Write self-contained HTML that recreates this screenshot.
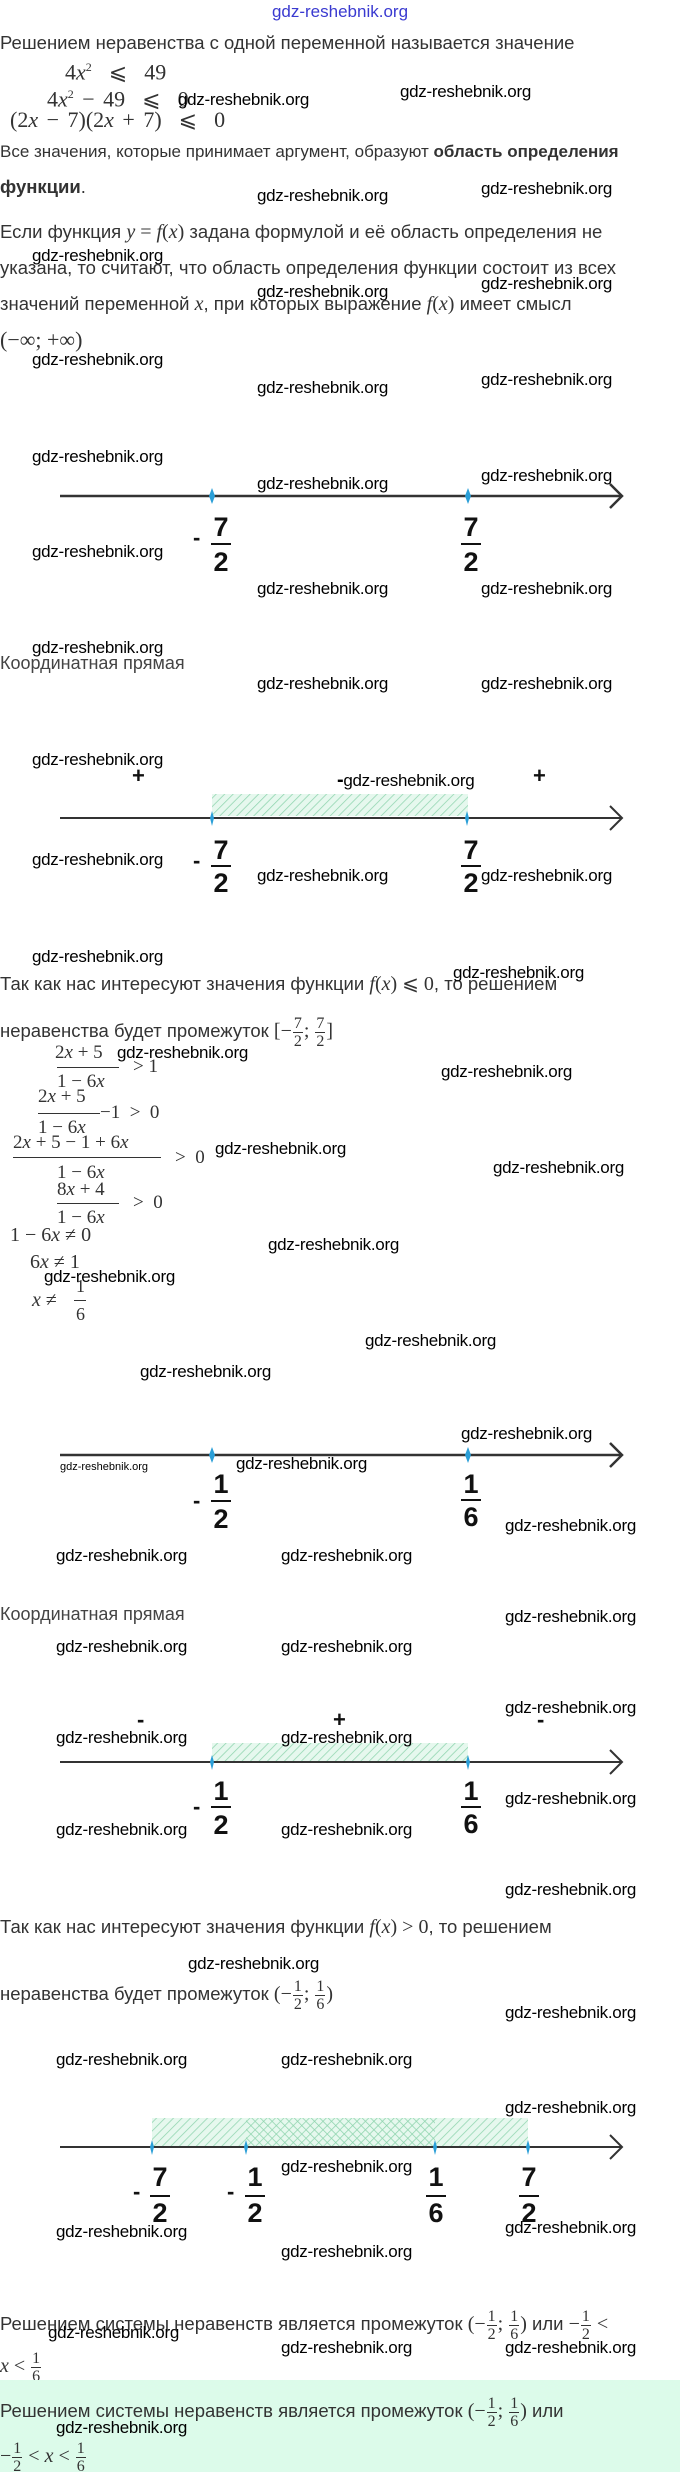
<!DOCTYPE html>
<html><head><meta charset="utf-8"><style>
body{margin:0;width:680px;height:2472px;position:relative;background:#fff;overflow:hidden;font-family:"Liberation Sans",sans-serif;color:#333;}
.a{position:absolute;white-space:nowrap;line-height:20px;}
.t{font-size:18.5px;}
.w{font-size:17px;color:#000;letter-spacing:-0.3px;}
.m{font-family:"Liberation Serif",serif;font-size:20px;color:#333;}
.m i{font-style:italic;}
.fr{display:inline-flex;flex-direction:column;align-items:center;vertical-align:middle;font-size:16px;line-height:17px;margin:0 1px;}
.fr span:first-child{border-bottom:1px solid #333;padding:0 1px;}
.bf{font-family:"Liberation Sans",sans-serif;font-weight:bold;font-size:27px;color:#111;line-height:28px;text-align:center;width:24px;}
.bar{position:absolute;height:2px;background:#111;}
.pm{font-weight:bold;font-size:22px;color:#111;}
.k{font-size:18px;color:#444;}
.bm{font-size:22px;word-spacing:3px;}
</style></head><body>

<div class="a" style="left:0;top:2px;width:680px;text-align:center;font-size:17px;color:#3a3ad0;">gdz-reshebnik.org</div>

<div class="a t" style="left:0;top:33px;">Решением неравенства с одной переменной называется значение</div>
<div class="a m bm" style="left:65px;top:57px;">4<i>x</i><sup style="font-size:12px">2</sup> &nbsp;⩽&nbsp; 49</div>
<div class="a m bm" style="left:47px;top:84px;">4<i>x</i><sup style="font-size:12px">2</sup> − 49 &nbsp;⩽&nbsp; 0</div>
<div class="a w" style="left:178px;top:90px;">gdz-reshebnik.org</div>
<div class="a w" style="left:400px;top:82px;">gdz-reshebnik.org</div>
<div class="a m bm" style="left:10px;top:110px;">(2<i>x</i> − 7)(2<i>x</i> + 7) &nbsp;⩽&nbsp; 0</div>
<div class="a t" style="left:0;top:142px;font-size:17px;">Все значения, которые принимает аргумент, образуют <b>область определения</b></div>
<div class="a t" style="left:0;top:177px;"><b>функции</b>.</div>
<div class="a w" style="left:257px;top:186px;">gdz-reshebnik.org</div>
<div class="a w" style="left:481px;top:179px;">gdz-reshebnik.org</div>
<div class="a t" style="left:0;top:222px;">Если функция <span class="m"><i>y</i> = <i>f</i>(<i>x</i>)</span> задана формулой и её область определения не</div>
<div class="a w" style="left:32px;top:246px;">gdz-reshebnik.org</div>
<div class="a t" style="left:0;top:258px;">указана, то считают, что область определения функции состоит из всех</div>
<div class="a w" style="left:257px;top:282px;">gdz-reshebnik.org</div>
<div class="a w" style="left:481px;top:274px;">gdz-reshebnik.org</div>
<div class="a t" style="left:0;top:294px;">значений переменной <span class="m"><i>x</i></span>, при которых выражение <span class="m"><i>f</i>(<i>x</i>)</span> имеет смысл</div>
<div class="a m" style="left:0;top:330px;font-size:22px;">(−∞; +∞)</div>
<div class="a w" style="left:32px;top:350px;">gdz-reshebnik.org</div>
<div class="a w" style="left:257px;top:378px;">gdz-reshebnik.org</div>
<div class="a w" style="left:481px;top:370px;">gdz-reshebnik.org</div>

<div class="a w" style="left:32px;top:447px;">gdz-reshebnik.org</div>
<div class="a w" style="left:257px;top:474px;">gdz-reshebnik.org</div>
<div class="a w" style="left:481px;top:466px;">gdz-reshebnik.org</div>
<svg class="a" style="left:0;top:0" width="680" height="2472">
<defs>
<pattern id="h" width="6" height="6" patternUnits="userSpaceOnUse" patternTransform="rotate(45)"><rect width="6" height="6" fill="#e6f8ee"/><line x1="0" y1="0" x2="0" y2="6" stroke="#8fd4ae" stroke-width="1.5"/></pattern>
<pattern id="x" width="6" height="6" patternUnits="userSpaceOnUse" patternTransform="rotate(-45)"><line x1="0" y1="0" x2="0" y2="6" stroke="#8fd4ae" stroke-width="1.5"/></pattern>
</defs>
<g stroke="#333" stroke-width="2.5" fill="none">
<line x1="60" y1="496" x2="621" y2="496"/><polyline points="610,484 622,496 610,508"/>
</g>
<g fill="#2a9fd8"><path d="M212 488 L215 496 L212 504 L209 496Z"/><path d="M468 488 L471 496 L468 504 L465 496Z"/></g>

<rect x="212" y="794" width="256" height="22" fill="url(#h)"/>
<g stroke="#333" stroke-width="2" fill="none">
<line x1="60" y1="818" x2="621" y2="818"/><polyline points="610,806 622,818 610,830"/>
</g>
<g fill="#2a9fd8"><path d="M212 811 L214 818 L212 826 L210 818Z"/><path d="M467 811 L469 818 L467 826 L465 818Z"/></g>

<g stroke="#333" stroke-width="2.5" fill="none">
<line x1="60" y1="1455" x2="621" y2="1455"/><polyline points="610,1443 622,1455 610,1467"/>
</g>
<g fill="#2a9fd8"><path d="M212 1447 L215 1455 L212 1463 L209 1455Z"/><path d="M468 1447 L471 1455 L468 1463 L465 1455Z"/></g>

<rect x="212" y="1743" width="256" height="19" fill="url(#h)"/>
<g stroke="#333" stroke-width="2" fill="none">
<line x1="60" y1="1762" x2="621" y2="1762"/><polyline points="610,1750 622,1762 610,1774"/>
</g>
<g fill="#2a9fd8"><path d="M212 1755 L214 1762 L212 1770 L210 1762Z"/><path d="M468 1755 L470 1762 L468 1770 L466 1762Z"/></g>

<rect x="152" y="2118" width="376" height="28" fill="url(#h)"/>
<rect x="246" y="2118" width="189" height="28" fill="url(#x)"/>
<g stroke="#333" stroke-width="2" fill="none">
<line x1="60" y1="2147" x2="621" y2="2147"/><polyline points="610,2135 622,2147 610,2159"/>
</g>
<g fill="#2a9fd8"><path d="M152 2140 L154 2147 L152 2155 L150 2147Z"/><path d="M246 2140 L248 2147 L246 2155 L244 2147Z"/><path d="M435 2140 L437 2147 L435 2155 L433 2147Z"/><path d="M528 2140 L530 2147 L528 2155 L526 2147Z"/></g>
</svg>

<div class="a pm" style="left:193px;top:528px;">-</div>
<div class="a bf" style="left:209px;top:513px;">7</div><div class="bar" style="left:211px;top:543px;width:20px;"></div><div class="a bf" style="left:209px;top:548px;">2</div>
<div class="a bf" style="left:459px;top:513px;">7</div><div class="bar" style="left:461px;top:543px;width:20px;"></div><div class="a bf" style="left:459px;top:548px;">2</div>
<div class="a w" style="left:32px;top:542px;">gdz-reshebnik.org</div>
<div class="a w" style="left:257px;top:579px;">gdz-reshebnik.org</div>
<div class="a w" style="left:481px;top:579px;">gdz-reshebnik.org</div>

<div class="a w" style="left:32px;top:638px;">gdz-reshebnik.org</div>
<div class="a k" style="left:0;top:653px;">Координатная прямая</div>
<div class="a w" style="left:257px;top:674px;">gdz-reshebnik.org</div>
<div class="a w" style="left:481px;top:674px;">gdz-reshebnik.org</div>

<div class="a w" style="left:32px;top:750px;">gdz-reshebnik.org</div>
<div class="a pm" style="left:132px;top:766px;">+</div>
<div class="a w" style="left:337px;top:770px;"><b style="font-size:20px">-</b>gdz-reshebnik.org</div>
<div class="a pm" style="left:533px;top:766px;">+</div>
<div class="a pm" style="left:193px;top:851px;">-</div>
<div class="a bf" style="left:209px;top:836px;">7</div><div class="bar" style="left:211px;top:865px;width:20px;"></div><div class="a bf" style="left:209px;top:869px;">2</div>
<div class="a bf" style="left:459px;top:836px;">7</div><div class="bar" style="left:461px;top:865px;width:20px;"></div><div class="a bf" style="left:459px;top:869px;">2</div>
<div class="a w" style="left:32px;top:850px;">gdz-reshebnik.org</div>
<div class="a w" style="left:257px;top:866px;">gdz-reshebnik.org</div>
<div class="a w" style="left:481px;top:866px;">gdz-reshebnik.org</div>

<div class="a w" style="left:32px;top:947px;">gdz-reshebnik.org</div>
<div class="a t" style="left:0;top:974px;">Так как нас интересуют значения функции <span class="m"><i>f</i>(<i>x</i>) ⩽ 0</span>, то решением</div>
<div class="a w" style="left:453px;top:963px;">gdz-reshebnik.org</div>
<div class="a t" style="left:0;top:1015px;">неравенства будет промежуток <span class="m">[−<span class="fr"><span>7</span><span>2</span></span>; <span class="fr"><span>7</span><span>2</span></span>]</span></div>

<div class="a m" style="left:55px;top:1043px;font-size:19px;">2<i>x</i> + 5</div>
<div class="bar" style="left:57px;top:1067px;width:62px;height:1px;background:#333"></div>
<div class="a m" style="left:57px;top:1072px;font-size:19px;">1 − 6<i>x</i></div>
<div class="a m" style="left:133px;top:1057px;font-size:19px;">&gt; 1</div>
<div class="a w" style="left:117px;top:1043px;">gdz-reshebnik.org</div>
<div class="a w" style="left:441px;top:1062px;">gdz-reshebnik.org</div>

<div class="a m" style="left:38px;top:1087px;font-size:19px;">2<i>x</i> + 5</div>
<div class="bar" style="left:38px;top:1113px;width:62px;height:1px;background:#333"></div>
<div class="a m" style="left:38px;top:1118px;font-size:19px;">1 − 6<i>x</i></div>
<div class="a m" style="left:100px;top:1103px;font-size:19px;">−1 &nbsp;&gt;&nbsp; 0</div>

<div class="a m" style="left:13px;top:1133px;font-size:19px;">2<i>x</i> + 5 − 1 + 6<i>x</i></div>
<div class="bar" style="left:13px;top:1157px;width:148px;height:1px;background:#333"></div>
<div class="a m" style="left:57px;top:1163px;font-size:19px;">1 − 6<i>x</i></div>
<div class="a m" style="left:175px;top:1148px;font-size:19px;">&gt;&nbsp; 0</div>
<div class="a w" style="left:215px;top:1139px;">gdz-reshebnik.org</div>
<div class="a w" style="left:493px;top:1158px;">gdz-reshebnik.org</div>

<div class="a m" style="left:57px;top:1180px;font-size:19px;">8<i>x</i> + 4</div>
<div class="bar" style="left:57px;top:1203px;width:62px;height:1px;background:#333"></div>
<div class="a m" style="left:57px;top:1208px;font-size:19px;">1 − 6<i>x</i></div>
<div class="a m" style="left:133px;top:1193px;font-size:19px;">&gt;&nbsp; 0</div>

<div class="a m" style="left:10px;top:1225px;font-size:20px;">1 − 6<i>x</i> ≠ 0</div>
<div class="a w" style="left:268px;top:1235px;">gdz-reshebnik.org</div>
<div class="a m" style="left:30px;top:1252px;font-size:20px;">6<i>x</i> ≠ 1</div>
<div class="a w" style="left:44px;top:1267px;">gdz-reshebnik.org</div>
<div class="a m" style="left:32px;top:1290px;font-size:20px;"><i>x</i> ≠</div>
<div class="a m" style="left:76px;top:1276px;font-size:18px;">1</div>
<div class="bar" style="left:74px;top:1300px;width:12px;height:1px;background:#333"></div>
<div class="a m" style="left:76px;top:1304px;font-size:18px;">6</div>
<div class="a w" style="left:365px;top:1331px;">gdz-reshebnik.org</div>
<div class="a w" style="left:140px;top:1362px;">gdz-reshebnik.org</div>

<div class="a w" style="left:461px;top:1424px;">gdz-reshebnik.org</div>
<div class="a" style="left:60px;top:1460px;font-size:11px;color:#000;line-height:14px;">gdz-reshebnik.org</div>
<div class="a w" style="left:236px;top:1454px;">gdz-reshebnik.org</div>
<div class="a pm" style="left:193px;top:1491px;">-</div>
<div class="a bf" style="left:209px;top:1470px;">1</div><div class="bar" style="left:211px;top:1500px;width:20px;"></div><div class="a bf" style="left:209px;top:1505px;">2</div>
<div class="a bf" style="left:459px;top:1470px;">1</div><div class="bar" style="left:461px;top:1499px;width:20px;"></div><div class="a bf" style="left:459px;top:1503px;">6</div>
<div class="a w" style="left:505px;top:1516px;">gdz-reshebnik.org</div>
<div class="a w" style="left:56px;top:1546px;">gdz-reshebnik.org</div>
<div class="a w" style="left:281px;top:1546px;">gdz-reshebnik.org</div>
<div class="a k" style="left:0;top:1604px;">Координатная прямая</div>
<div class="a w" style="left:505px;top:1607px;">gdz-reshebnik.org</div>
<div class="a w" style="left:56px;top:1637px;">gdz-reshebnik.org</div>
<div class="a w" style="left:281px;top:1637px;">gdz-reshebnik.org</div>

<div class="a w" style="left:505px;top:1698px;">gdz-reshebnik.org</div>
<div class="a pm" style="left:137px;top:1710px;">-</div>
<div class="a pm" style="left:333px;top:1710px;">+</div>
<div class="a pm" style="left:537px;top:1710px;">-</div>
<div class="a w" style="left:56px;top:1728px;">gdz-reshebnik.org</div>
<div class="a w" style="left:281px;top:1728px;">gdz-reshebnik.org</div>
<div class="a pm" style="left:193px;top:1797px;">-</div>
<div class="a bf" style="left:209px;top:1777px;">1</div><div class="bar" style="left:211px;top:1806px;width:20px;"></div><div class="a bf" style="left:209px;top:1811px;">2</div>
<div class="a bf" style="left:459px;top:1777px;">1</div><div class="bar" style="left:461px;top:1806px;width:20px;"></div><div class="a bf" style="left:459px;top:1810px;">6</div>
<div class="a w" style="left:505px;top:1789px;">gdz-reshebnik.org</div>
<div class="a w" style="left:56px;top:1820px;">gdz-reshebnik.org</div>
<div class="a w" style="left:281px;top:1820px;">gdz-reshebnik.org</div>

<div class="a w" style="left:505px;top:1880px;">gdz-reshebnik.org</div>
<div class="a t" style="left:0;top:1917px;">Так как нас интересуют значения функции <span class="m"><i>f</i>(<i>x</i>) &gt; 0</span>, то решением</div>
<div class="a w" style="left:188px;top:1954px;">gdz-reshebnik.org</div>
<div class="a t" style="left:0;top:1978px;">неравенства будет промежуток <span class="m">(−<span class="fr"><span>1</span><span>2</span></span>; <span class="fr"><span>1</span><span>6</span></span>)</span></div>
<div class="a w" style="left:505px;top:2003px;">gdz-reshebnik.org</div>
<div class="a w" style="left:56px;top:2050px;">gdz-reshebnik.org</div>
<div class="a w" style="left:281px;top:2050px;">gdz-reshebnik.org</div>

<div class="a w" style="left:505px;top:2098px;">gdz-reshebnik.org</div>
<div class="a w" style="left:281px;top:2157px;">gdz-reshebnik.org</div>
<div class="a pm" style="left:133px;top:2182px;">-</div>
<div class="a bf" style="left:148px;top:2163px;">7</div><div class="bar" style="left:150px;top:2195px;width:20px;"></div><div class="a bf" style="left:148px;top:2199px;">2</div>
<div class="a pm" style="left:227px;top:2182px;">-</div>
<div class="a bf" style="left:243px;top:2163px;">1</div><div class="bar" style="left:245px;top:2195px;width:20px;"></div><div class="a bf" style="left:243px;top:2199px;">2</div>
<div class="a bf" style="left:424px;top:2163px;">1</div><div class="bar" style="left:426px;top:2195px;width:20px;"></div><div class="a bf" style="left:424px;top:2199px;">6</div>
<div class="a bf" style="left:517px;top:2163px;">7</div><div class="bar" style="left:519px;top:2195px;width:20px;"></div><div class="a bf" style="left:517px;top:2199px;">2</div>
<div class="a w" style="left:56px;top:2222px;">gdz-reshebnik.org</div>
<div class="a w" style="left:505px;top:2218px;">gdz-reshebnik.org</div>
<div class="a w" style="left:281px;top:2242px;">gdz-reshebnik.org</div>

<div class="a t" style="left:0;top:2308px;">Решением системы неравенств является промежуток <span class="m">(−<span class="fr"><span>1</span><span>2</span></span>; <span class="fr"><span>1</span><span>6</span></span>)</span> или <span class="m">−<span class="fr"><span>1</span><span>2</span></span> &lt;</span></div>
<div class="a w" style="left:48px;top:2323px;">gdz-reshebnik.org</div>
<div class="a w" style="left:281px;top:2338px;">gdz-reshebnik.org</div>
<div class="a w" style="left:505px;top:2338px;">gdz-reshebnik.org</div>
<div class="a m" style="left:0;top:2350px;"><i>x</i> &lt; <span class="fr"><span>1</span><span>6</span></span></div>

<div style="position:absolute;left:0;top:2380px;width:680px;height:92px;background:#dcfbea;"></div>
<div class="a t" style="left:0;top:2395px;">Решением системы неравенств является промежуток <span class="m">(−<span class="fr"><span>1</span><span>2</span></span>; <span class="fr"><span>1</span><span>6</span></span>)</span> или</div>
<div class="a w" style="left:56px;top:2418px;">gdz-reshebnik.org</div>
<div class="a m" style="left:0;top:2440px;">−<span class="fr"><span>1</span><span>2</span></span> &lt; <i>x</i> &lt; <span class="fr"><span>1</span><span>6</span></span></div>

</body></html>
